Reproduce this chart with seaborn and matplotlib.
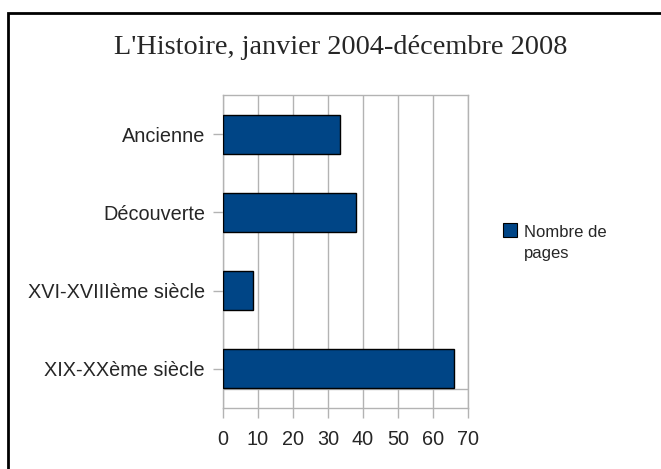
import matplotlib
matplotlib.use("Agg")
import matplotlib.pyplot as plt
import matplotlib.patches as mpatches
import seaborn as sns
import pandas as pd

categories = ["Ancienne", "Découverte", "XVI-XVIIIème siècle", "XIX-XXème siècle"]
pages = [33.3, 38.1, 8.5, 66.1]
series_name = "Nombre de\npages"
title = "L'Histoire, janvier 2004-décembre 2008"
xticks = [0, 10, 20, 30, 40, 50, 60, 70]

sns.set_theme(style="white")
plt.rcParams["font.family"] = ["Liberation Sans", "DejaVu Sans"]

W, H = 661, 469
fig = plt.figure(figsize=(W / 100, H / 100), dpi=100)
ax = fig.add_axes([223 / W, 1 - 408 / H, (468 - 223) / W, (408 - 95) / H])

df = pd.DataFrame({"cat": categories, "val": pages})
bar_color = "#004586"
sns.barplot(data=df, x="val", y="cat", orient="h", color=bar_color, width=0.5,
            edgecolor="black", linewidth=1.0, saturation=1, ax=ax, zorder=3)

ax.set_xlim(0, 70)
ax.set_ylim(3.5, -0.5)
ax.set_xticks(xticks)
ax.set_xticklabels([str(t) for t in xticks], fontsize=14.3)
ax.set_yticks(range(len(categories)))
ax.set_yticklabels(categories, fontsize=14.3)
ax.set_xlabel("")
ax.set_ylabel("")
grid_c = "#b3b3b3"
for x in xticks:
    ax.axvline(x, color=grid_c, lw=1.0, zorder=1)
ax.axhline(3.26, color=grid_c, lw=1.0, zorder=1)
for s in ax.spines.values():
    s.set_color(grid_c)
    s.set_linewidth(1.0)
ax.tick_params(axis="x", length=7, color=grid_c, width=1, pad=9, bottom=True)
ax.tick_params(axis="y", length=7, color=grid_c, width=1, pad=6, left=True)

fig.text(341 / W, 1 - 48 / H, title, ha="center", va="center",
         fontsize=20.3, family=["Liberation Serif", "DejaVu Serif"])

# legend (drawn by hand to match the reference placement)
key = mpatches.Rectangle((503 / W, 1 - 237 / H), 14 / W, 14 / H, transform=fig.transFigure,
                         facecolor=bar_color, edgecolor="black", linewidth=0.8)
fig.patches.append(key)
fig.text(524 / W, 1 - 225 / H, series_name, ha="left", va="top", fontsize=12,
         linespacing=1.5)

border = mpatches.Rectangle((8 / W, -0.1), 1.2, 1 - 13 / H + 0.1, transform=fig.transFigure,
                            fill=False, edgecolor="black", linewidth=2.0)
fig.patches.append(border)

fig.savefig("out.png", dpi=100)
